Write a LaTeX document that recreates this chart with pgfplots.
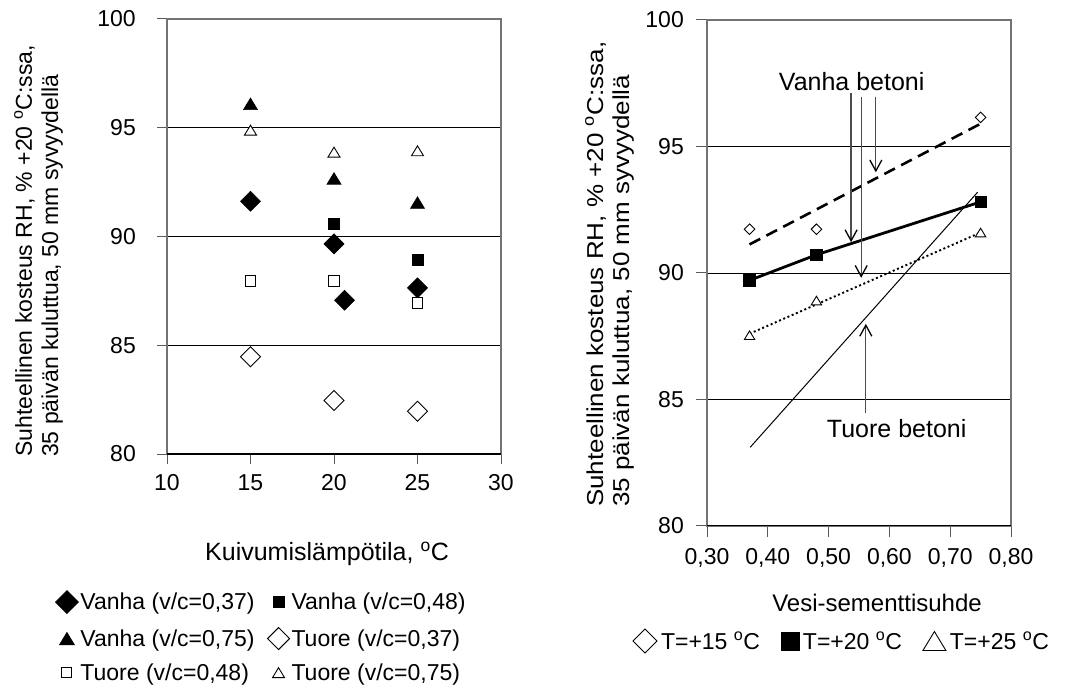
\documentclass[border=0pt]{standalone}
\usepackage{fontspec}
\setmainfont{Liberation Sans}
\usepackage{graphicx}
\usepackage{pgfplots}
\pgfplotsset{compat=1.18}
\usetikzlibrary{arrows.meta}

\pgfdeclareplotmark{mydiam}{%
  \pgfpathmoveto{\pgfqpoint{0pt}{\pgfplotmarksize}}%
  \pgfpathlineto{\pgfqpoint{\pgfplotmarksize}{0pt}}%
  \pgfpathlineto{\pgfqpoint{0pt}{-\pgfplotmarksize}}%
  \pgfpathlineto{\pgfqpoint{-\pgfplotmarksize}{0pt}}%
  \pgfpathclose\pgfusepathqfillstroke}
\pgfdeclareplotmark{mytri}{%
  \pgfpathmoveto{\pgfqpoint{0pt}{0.825\pgfplotmarksize}}%
  \pgfpathlineto{\pgfqpoint{\pgfplotmarksize}{-0.825\pgfplotmarksize}}%
  \pgfpathlineto{\pgfqpoint{-\pgfplotmarksize}{-0.825\pgfplotmarksize}}%
  \pgfpathclose\pgfusepathqfillstroke}
\pgfdeclareplotmark{mysq}{%
  \pgfpathrectangle{\pgfqpoint{-\pgfplotmarksize}{-\pgfplotmarksize}}{\pgfqpoint{2\pgfplotmarksize}{2\pgfplotmarksize}}%
  \pgfusepathqfillstroke}

\newcommand{\fa}{\fontsize{23pt}{27pt}\selectfont}
\newcommand{\fb}{\fontsize{25pt}{30pt}\selectfont}
\newcommand{\fc}{\fontsize{24pt}{29pt}\selectfont}

\pgfplotsset{
  common/.style={
    scale only axis, anchor=south west,
    ymin=80, ymax=100, ytick={80,85,90,95,100},
    tick align=outside,
    xtick pos=left, ytick pos=left,
    axis line style={black!55, line width=1.2pt},
    tick style={black!65, line width=1pt},
    ymajorgrids, grid style={black, line width=0.9pt},
    tick label style={font=\fa, inner sep=0pt},
    /pgf/number format/assume math mode=true,
    legend cell align=left,
    legend image code/.code={\draw[##1] plot coordinates {(0pt,0pt)};},
  },
  fillb/.style={mark options={draw=black, fill=black, line width=0.6pt, solid}},
  fillw/.style={mark options={draw=black, fill=white, line width=0.9pt, solid}},
}

\begin{document}
\begin{tikzpicture}
\useasboundingbox (0pt,0pt) rectangle (1066pt,691pt);

% ---------------- left chart ----------------
\begin{axis}[common,
  at={(167pt,237pt)}, width=334pt, height=435pt,
  xmin=10, xmax=30, xtick={10,15,20,25,30},
  major tick length=10pt,
  xticklabel shift=10pt, yticklabel shift=21pt,
  legend columns=2,
  legend style={draw=none, fill=none, inner sep=0pt, outer sep=0pt,
    at={(-0.334,-0.314)}, anchor=north west, font=\fa,
    nodes={inner sep=0pt, outer sep=0pt}, row sep=14pt,
    /tikz/every odd column/.append style={column sep=2pt},
    /tikz/every even column/.append style={column sep=13pt}},
]
\addplot[forget plot, only marks, mark=mydiam, mark size=10pt, fillb] coordinates
  {(15,91.62) (20,89.66) (20.63,87.07) (25,87.64)};
\addplot[forget plot, only marks, mark=mysq, mark size=5.5pt, fillb] coordinates
  {(20,90.58) (25,88.93)};
\addplot[forget plot, only marks, mark=mytri, mark size=7pt, fillb] coordinates
  {(15,96.1) (20,92.67) (25,91.56)};
\addplot[forget plot, only marks, mark=mydiam, mark size=10pt, fillw] coordinates
  {(15,84.47) (20,82.46) (25,81.97)};
\addplot[forget plot, only marks, mark=mysq, mark size=5.3pt, fillw] coordinates
  {(15,87.95) (20,87.95) (25,86.95)};
\addplot[forget plot, only marks, mark=mytri, mark size=6pt, fillw] coordinates
  {(15,94.89) (20,93.88) (25,93.94)};
\draw[black, line width=1.2pt] (rel axis cs:0,0) -- (rel axis cs:1,0);

\addlegendimage{only marks, mark=mydiam, mark size=11.5pt, fillb}
\addlegendentry{Vanha (v/c=0,37)}
\addlegendimage{only marks, mark=mysq, mark size=5.5pt, fillb}
\addlegendentry{Vanha (v/c=0,48)}
\addlegendimage{only marks, mark=mytri, mark size=7.5pt, fillb}
\addlegendentry{Vanha (v/c=0,75)}
\addlegendimage{only marks, mark=mydiam, mark size=11pt, fillw}
\addlegendentry{Tuore (v/c=0,37)}
\addlegendimage{only marks, mark=mysq, mark size=5pt, fillw}
\addlegendentry{Tuore (v/c=0,48)}
\addlegendimage{only marks, mark=mytri, mark size=6pt, fillw}
\addlegendentry{Tuore (v/c=0,75)}
\end{axis}

% ---------------- right chart ----------------
\begin{axis}[common,
  at={(707pt,165pt)}, width=304pt, height=506pt,
  xmin=0.3, xmax=0.8, xtick={0.3,0.4,0.5,0.6,0.7,0.8},
  xticklabel style={/pgf/number format/.cd, fixed, fixed zerofill, precision=2, use comma},
  major tick length=11pt,
  xticklabel shift=11pt, yticklabel shift=12pt,
  legend columns=3,
  legend style={draw=none, fill=none, inner sep=0pt, outer sep=0pt,
    at={(-0.2434,-0.2036)}, anchor=north west, font=\fa,
    nodes={inner sep=0pt, outer sep=0pt},
    /tikz/every odd column/.append style={column sep=4pt},
    /tikz/every even column/.append style={column sep=21pt}},
]
% trend / connecting lines
\addplot[forget plot, black, line width=2.6pt, dash pattern=on 12pt off 7pt] coordinates
  {(0.37,91.13) (0.75,95.9)};
\addplot[forget plot, black, line width=1.9pt, dash pattern=on 2pt off 2.6pt] coordinates
  {(0.37,87.6) (0.75,91.6)};
\addplot[forget plot, black, line width=1pt] coordinates
  {(0.371,83.11) (0.745,93.19)};
\addplot[forget plot, black, line width=2.8pt, mark=mysq, mark size=5.8pt, fillb] coordinates
  {(0.37,89.71) (0.48,90.72) (0.75,92.81)};
% markers
\addplot[forget plot, only marks, mark=mydiam, mark size=5.3pt, fillw] coordinates
  {(0.37,91.73) (0.48,91.73) (0.75,96.15)};
\addplot[forget plot, only marks, mark=mytri, mark size=5.2pt, fillw] coordinates
  {(0.37,87.54) (0.48,88.91) (0.75,91.6)};
\draw[black, line width=1.2pt] (rel axis cs:0,0) -- (rel axis cs:1,0);

% annotations
\node[font=\fb, inner sep=0pt] at (axis cs:0.538,97.55) {Vanha betoni};
\node[font=\fb, inner sep=0pt] at (axis cs:0.612,83.87) {Tuore betoni};
\draw[black!70, line width=1.3pt, -{Straight Barb[length=11pt,width=12pt,line width=1.3pt,black]}]
  (axis cs:0.537,97.1) -- (axis cs:0.537,91.22);
\draw[black!70, line width=1.3pt, -{Straight Barb[length=11pt,width=12pt,line width=1.3pt,black]}]
  (axis cs:0.5536,96.97) -- (axis cs:0.5536,89.81);
\draw[black!70, line width=1.3pt, -{Straight Barb[length=11pt,width=12pt,line width=1.3pt,black]}]
  (axis cs:0.5777,96.97) -- (axis cs:0.5777,93.98);
\draw[black!70, line width=1.3pt, -{Straight Barb[length=11pt,width=12pt,line width=1.3pt,black]}]
  (axis cs:0.5612,84.48) -- (axis cs:0.5612,87.99);

\addlegendimage{only marks, mark=mydiam, mark size=12pt, fillw}
\addlegendentry{T=+15 \textsuperscript{o}C}
\addlegendimage{only marks, mark=mysq, mark size=9pt, fillb}
\addlegendentry{T=+20 \textsuperscript{o}C}
\addlegendimage{only marks, mark=mytri, mark size=11.5pt, fillw}
\addlegendentry{T=+25 \textsuperscript{o}C}
\end{axis}

% ---------------- axis titles ----------------
\node[rotate=90, anchor=base west, inner sep=0pt, font=\fa] at (32pt,234pt)
  {Suhteellinen kosteus RH, \% +20 \textsuperscript{o}C:ssa,};
\node[rotate=90, anchor=base west, inner sep=0pt, font=\fa] at (58pt,234pt)
  {35 päivän kuluttua, 50 mm syvyydellä};
\node[rotate=90, anchor=base west, inner sep=0pt, font=\fa] at (603pt,184pt)
  {\scalebox{1.13}[1]{Suhteellinen kosteus RH, \% +20 \textsuperscript{o}C:ssa,}};
\node[rotate=90, anchor=base west, inner sep=0pt, font=\fa] at (629pt,184pt)
  {\scalebox{1.13}[1]{35 päivän kuluttua, 50 mm syvyydellä}};
\node[anchor=base, inner sep=0pt, font=\fb] at (327pt,130.4pt)
  {Kuivumislämpötila, \textsuperscript{o}C};
\node[anchor=base, inner sep=0pt, font=\fc] at (877pt,79pt)
  {Vesi-sementtisuhde};
\end{tikzpicture}
\end{document}
